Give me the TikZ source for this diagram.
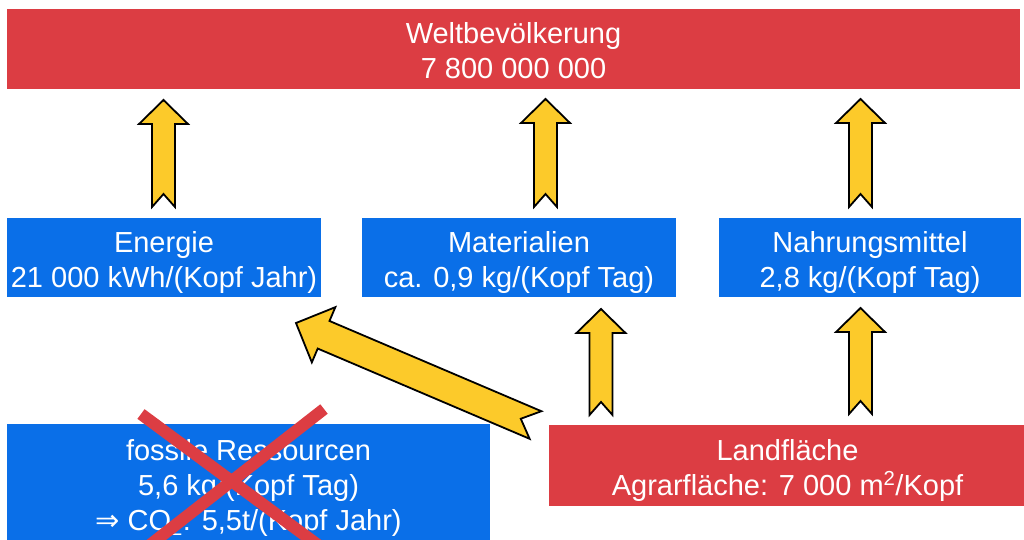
\documentclass[tikz,border=0pt]{standalone}
\usepackage{fontspec}
\setmainfont{Liberation Sans}
\newfontfamily\symbolfont{DejaVu Sans}
\usetikzlibrary{calc}
\definecolor{boxred}{HTML}{DC3D43}
\definecolor{boxblue}{HTML}{0A6FE8}
\definecolor{arrowyellow}{HTML}{FCCA2A}
\newcommand\boxlines[1]{\raisebox{-5pt}[\height][\depth]{\begin{tabular}{@{}c@{}}#1\end{tabular}}}
\tikzset{
  box/.style={rectangle, inner sep=0pt, text=white, align=center,
    font=\fontsize{29}{35}\selectfont},
  redbox/.style={box, fill=boxred},
  bluebox/.style={box, fill=boxblue},
  fatarr/.style={fill=arrowyellow, draw=black, line width=1.8pt, line join=miter},
  crossline/.style={draw=boxred, line width=12pt, line cap=butt}
}
% #1 tail, #2 tip, #3 shaft half width, #4 head half width, #5 head length, #6 notch depth
\newcommand\fatarrow[6]{%
  \coordinate (fa-h) at ($(#2)!#5!(#1)$);
  \draw[fatarr] (#2)
    -- ($(fa-h)!#4!90:(#1)$)
    -- ($(fa-h)!#3!90:(#1)$)
    -- ($(#1)!#3!-90:(#2)$)
    -- ($(#1)!#6!(#2)$)
    -- ($(#1)!#3!90:(#2)$)
    -- ($(fa-h)!#3!-90:(#1)$)
    -- ($(fa-h)!#4!-90:(#1)$)
    -- cycle;
}
\begin{document}
\begin{tikzpicture}[x=1pt,y=-1pt]
\useasboundingbox (0,0) rectangle (1024,539);
\clip (0,0) rectangle (1024,539);

\node[redbox, minimum width=1013pt, minimum height=80pt] (welt) at (513.5,49)
  {\boxlines{Weltbevölkerung\\7 800 000 000}};
\node[bluebox, minimum width=314pt, minimum height=79pt] (energie) at (164,257.5)
  {\boxlines{Energie\\21 000 kWh/(Kopf Jahr)}};
\node[bluebox, minimum width=314pt, minimum height=79pt] (mat) at (519,257.5)
  {\boxlines{Materialien\\ca. 0,9 kg/(Kopf Tag)}};
\node[bluebox, minimum width=302pt, minimum height=79pt] (nahrung) at (870,257.5)
  {\boxlines{Nahrungsmittel\\2,8 kg/(Kopf Tag)}};
\node[bluebox, minimum width=483pt, minimum height=118pt] (fossil) at (248.5,483)
  {\boxlines{fossile Ressourcen\\5,6 kg/(Kopf Tag)\\{\symbolfont ⇒} CO\textsubscript{2}: 5,5t/(Kopf Jahr)}};
\node[redbox, minimum width=477pt, minimum height=81pt] (land) at (787.5,465.5)
  {\boxlines{Landfläche\\Agrarfläche: 7 000 m\textsuperscript{2}/Kopf}};

% arrow end points
\coordinate (a1t) at (163.5,207); \coordinate (a1h) at (163.5,100);
\coordinate (a2t) at (545.5,207); \coordinate (a2h) at (545.5,99);
\coordinate (a3t) at (860.5,207); \coordinate (a3h) at (860.5,99);
\coordinate (a4t) at (601,415);   \coordinate (a4h) at (601,309);
\coordinate (a5t) at (860.5,414); \coordinate (a5h) at (860.5,308);
\coordinate (a6t) at (535.5,425); \coordinate (a6h) at (296,323);

\fatarrow{a1t}{a1h}{11.5pt}{24.5pt}{24pt}{13pt}
\fatarrow{a2t}{a2h}{11.5pt}{24.5pt}{24pt}{13pt}
\fatarrow{a3t}{a3h}{11.5pt}{24.5pt}{24pt}{13pt}
\fatarrow{a4t}{a4h}{11.5pt}{24.5pt}{24pt}{13pt}
\fatarrow{a5t}{a5h}{11.5pt}{24.5pt}{24pt}{13pt}
\fatarrow{a6t}{a6h}{15pt}{30pt}{30pt}{16pt}

% red cross over fossil resources
\draw[crossline] (141,414) -- (322,548);
\draw[crossline] (324,409) -- (146,548);
\end{tikzpicture}
\end{document}
